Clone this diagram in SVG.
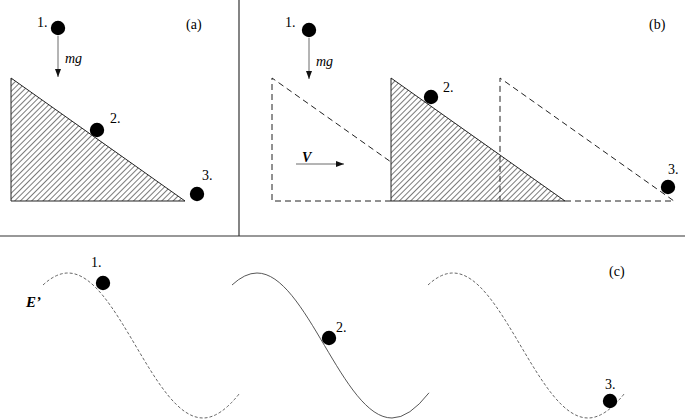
<svg xmlns="http://www.w3.org/2000/svg" width="685" height="420" viewBox="0 0 685 420">
<defs>
<pattern id="hatch" patternUnits="userSpaceOnUse" width="4" height="4" patternTransform="rotate(45)">
<line x1="0.5" y1="0" x2="0.5" y2="4" stroke="#333" stroke-width="0.65"/>
</pattern>
<marker id="ah" markerWidth="8" markerHeight="6" refX="8" refY="3" orient="auto" markerUnits="userSpaceOnUse">
<path d="M0,0 L8,3 L0,6 Z" fill="#111"/>
</marker>
</defs>
<style>
text{font-family:"Liberation Serif","DejaVu Serif","Times New Roman",serif;font-size:14px;fill:#000}
.it{font-style:italic}
.bi{font-style:italic;font-weight:bold}
.dot{fill:#000}
.sep{stroke:#333;stroke-width:1.2;fill:none}
.wedge{stroke:#222;stroke-width:1;fill:url(#hatch)}
.dash{stroke:#222;stroke-width:1;fill:none;stroke-dasharray:6 4}
.force{stroke:#444;stroke-width:0.8;fill:none;marker-end:url(#ah)}
.wave{stroke:#555;stroke-width:0.9;fill:none;stroke-dasharray:3 2}
.wave2{stroke:#444;stroke-width:0.9;fill:none}
</style>
<rect width="685" height="420" fill="#fff"/>
<g id="frame">
<line class="sep" x1="0" y1="236" x2="685" y2="236"/>
<line class="sep" x1="239" y1="0" x2="239" y2="236"/>
</g>
<g id="panel-a">
<path class="wedge" d="M11,78 L11,201 L185,201 Z"/>
<text x="186" y="29">(a)</text>
</g>
<g id="panel-b">
<path class="wedge" d="M391,78 L391,201 L565,201 Z"/>
<path class="dash" d="M391,201 L272,201 L272,78 L391,162"/>
<path class="dash" d="M565,201 L674,201 L500,78 L500,201"/>
<text x="649" y="29">(b)</text>
<text class="bi" x="302" y="162">V</text>
</g>
<g id="panel-c">
<text x="609" y="276">(c)</text>
<text class="bi" x="26" y="307" style="font-size:15px">E’</text>
</g>
<g id="connectors">
<line class="force" x1="58" y1="36" x2="58" y2="77"/>
<line class="force" x1="309" y1="38" x2="309" y2="79"/>
<line class="force" x1="296" y1="164" x2="344" y2="164"/>
<path class="wave" d="M43,285 Q55.9,273 68,273 C117.2,273 153.8,418 203,418 Q220.3,418 240,392.8"/>
<path class="wave2" d="M232,285 Q244.9,273 257,273 C306.2,273 342.8,418 392,418 Q409.3,418 429,392.8"/>
<path class="wave" d="M428,285 Q440.9,273 453,273 C502.2,273 538.8,418 588,418 Q605.3,418 625,392.8"/>
</g>
<g id="a-ball-1"><circle class="dot" cx="58" cy="28" r="7.2"/><text x="37" y="27">1.</text><text class="it" x="65" y="63">mg</text></g>
<g id="a-ball-2"><circle class="dot" cx="97" cy="130" r="7.2"/><text x="110" y="123">2.</text></g>
<g id="a-ball-3"><circle class="dot" cx="197" cy="194" r="7.2"/><text x="202" y="180">3.</text></g>
<g id="b-ball-1"><circle class="dot" cx="309" cy="30" r="7.2"/><text x="285" y="27">1.</text><text class="it" x="316" y="66">mg</text></g>
<g id="b-ball-2"><circle class="dot" cx="431" cy="97" r="7.2"/><text x="443" y="92">2.</text></g>
<g id="b-ball-3"><circle class="dot" cx="668" cy="187" r="7.2"/><text x="668" y="174">3.</text></g>
<g id="c-ball-1"><circle class="dot" cx="103" cy="283" r="7.2"/><text x="91" y="267">1.</text></g>
<g id="c-ball-2"><circle class="dot" cx="329" cy="338" r="7.2"/><text x="336" y="332">2.</text></g>
<g id="c-ball-3"><circle class="dot" cx="610" cy="401" r="7.2"/><text x="605" y="389">3.</text></g>
</svg>
